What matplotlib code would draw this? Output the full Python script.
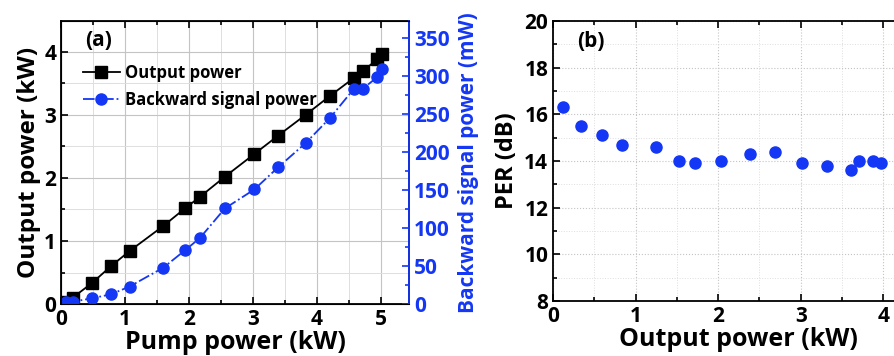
import matplotlib.pyplot as plt
from matplotlib.ticker import MultipleLocator

plt.rcParams['font.family'] = ['Open Sans', 'DejaVu Sans']
plt.rcParams['font.weight'] = 'bold'

blue = '#1437f5'

# panel (a)
pump = [0.08, 0.18, 0.48, 0.78, 1.07, 1.60, 1.94, 2.17, 2.56, 3.02, 3.39, 3.82, 4.20, 4.58, 4.72, 4.94, 5.02]
output_kw = [0.04, 0.10, 0.33, 0.60, 0.84, 1.24, 1.52, 1.70, 2.02, 2.38, 2.67, 3.00, 3.30, 3.59, 3.70, 3.88, 3.96]
backward_mw = [3, 3, 7.5, 12.8, 23, 48, 71, 87, 126, 151, 180, 212, 245, 284, 284, 299, 310]

# panel (b)
out_b = [0.12, 0.34, 0.59, 0.84, 1.25, 1.52, 1.72, 2.03, 2.39, 2.69, 3.01, 3.32, 3.61, 3.71, 3.87, 3.97]
per_db = [16.3, 15.5, 15.1, 14.7, 14.6, 14.0, 13.9, 14.0, 14.3, 14.4, 13.9, 13.8, 13.6, 14.0, 14.0, 13.9]

fig = plt.figure(figsize=(8.95, 3.56), dpi=100)


def style(ax, grid_ls):
    ax.tick_params(which='both', direction='in', top=True, labelsize=15, width=1.2)
    ax.tick_params(which='major', length=5)
    ax.tick_params(which='minor', length=3)
    ax.grid(True, which='major', color='#c4c4c4', lw=0.8, ls=grid_ls)
    ax.grid(True, which='minor', color='#dedede', lw=0.7, ls=grid_ls)
    ax.set_axisbelow(True)
    for s in ax.spines.values():
        s.set_linewidth(1.3)


ax1 = fig.add_axes([0.0682, 0.146, 0.389, 0.795])
ax1.plot(pump, output_kw, 's-', color='black', ms=8, lw=1.3, label='Output power')
ax1.set_xlim(0, 5.44)
ax1.set_ylim(0, 4.49)
ax1.xaxis.set_major_locator(MultipleLocator(1))
ax1.xaxis.set_minor_locator(MultipleLocator(0.5))
ax1.yaxis.set_major_locator(MultipleLocator(1))
ax1.yaxis.set_minor_locator(MultipleLocator(0.5))
style(ax1, '-')
ax1.set_xlabel('Pump power (kW)', fontsize=18, fontweight='bold', labelpad=0)
ax1.set_ylabel('Output power (kW)', fontsize=17.5, fontweight='bold', labelpad=2)
ax1.text(0.07, 0.93, '(a)', transform=ax1.transAxes, fontsize=15, fontweight='bold', va='center')

ax2 = ax1.twinx()
ax2.plot(pump, backward_mw, 'o-.', color=blue, ms=8, lw=1.3, label='Backward signal power')
ax2.set_ylim(0, 373)
ax2.yaxis.set_major_locator(MultipleLocator(50))
ax2.yaxis.set_minor_locator(MultipleLocator(25))
ax2.tick_params(which='both', direction='in', colors=blue, labelsize=15, width=1.2)
ax2.tick_params(which='major', length=5)
ax2.tick_params(which='minor', length=3)
ax2.spines['right'].set_color(blue)
ax2.spines['right'].set_linewidth(1.3)
ax2.set_ylabel('Backward signal power (mW)', fontsize=15, fontweight='bold', color=blue, labelpad=6)

h1, l1 = ax1.get_legend_handles_labels()
h2, l2 = ax2.get_legend_handles_labels()
ax1.legend(h1 + h2, l1 + l2, loc='upper left', bbox_to_anchor=(0.02, 0.9), frameon=False,
           prop={'size': 12, 'weight': 'bold'}, handlelength=2.2, handletextpad=0.3, labelspacing=0.5)

ax3 = fig.add_axes([0.618, 0.1545, 0.415, 0.787])
ax3.plot(out_b, per_db, 'o', color=blue, ms=8)
ax3.set_xlim(0, 4.5)
ax3.set_ylim(8, 20)
ax3.xaxis.set_major_locator(MultipleLocator(1))
ax3.xaxis.set_minor_locator(MultipleLocator(0.5))
ax3.yaxis.set_major_locator(MultipleLocator(2))
ax3.yaxis.set_minor_locator(MultipleLocator(1))
style(ax3, ':')
ax3.tick_params(which='both', right=True)
ax3.set_xlabel('Output power (kW)', fontsize=18, fontweight='bold', labelpad=0)
ax3.set_ylabel('PER (dB)', fontsize=17, fontweight='bold', labelpad=4)
ax3.text(0.065, 0.925, '(b)', transform=ax3.transAxes, fontsize=15, fontweight='bold', va='center')

fig.savefig('out.png', dpi=100)
